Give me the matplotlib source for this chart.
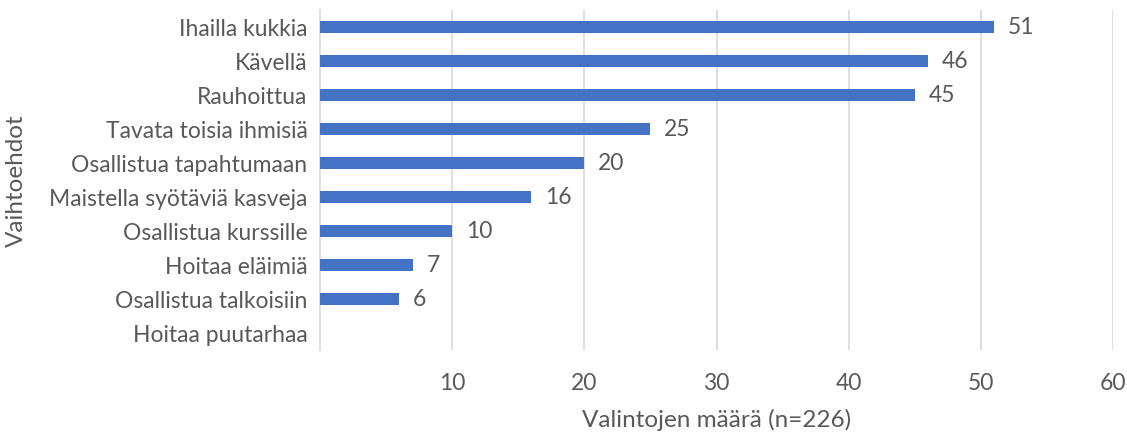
import numpy as np
import matplotlib
matplotlib.use("Agg")
import matplotlib.pyplot as plt

categories = ["Ihailla kukkia", "Kävellä", "Rauhoittua", "Tavata toisia ihmisiä",
              "Osallistua tapahtumaan", "Maistella syötäviä kasveja", "Osallistua kurssille",
              "Hoitaa eläimiä", "Osallistua talkoisiin", "Hoitaa puutarhaa"]
values = [51, 46, 45, 25, 20, 16, 10, 7, 6, None]
xticks = [10, 20, 30, 40, 50, 60]

plt.rcParams['font.family'] = ['Lato', 'DejaVu Sans']
txt = '#595959'
bar_color = '#4472C4'
grid_color = '#D9D9D9'
fs = 16.5
fs_title = 17.5

fig = plt.figure(figsize=(11.27, 4.34), dpi=100)
ax = fig.add_axes([320/1127, 1-350/434, (1113-320)/1127, 340/434])

vals = np.array([np.nan if v is None else v for v in values], dtype=float)
ypos = np.arange(len(categories))
ax.barh(ypos, np.nan_to_num(vals), height=0.35, color=bar_color, zorder=3)
for y, v in zip(ypos, vals):
    if not np.isnan(v):
        ax.annotate(f"{int(v)}", xy=(v, y), xytext=(10, 0), textcoords='offset points',
                    va='center', ha='left', fontsize=fs, color=txt)

ax.set_ylim(len(categories) - 0.5, -0.5)
ax.set_yticks(ypos)
ax.set_yticklabels(categories, fontsize=fs, color=txt)
ax.set_xlim(0, 60)
ax.set_xticks(xticks)
ax.set_xticklabels([str(t) for t in xticks], fontsize=fs, color=txt)
ax.tick_params(axis='both', length=0)
ax.tick_params(axis='y', pad=9)
ax.tick_params(axis='x', pad=16.5)
ax.grid(axis='x', color=grid_color, linewidth=1.2, zorder=0)
for s in ['top', 'right', 'bottom']:
    ax.spines[s].set_visible(False)
ax.spines['left'].set_color(grid_color)
ax.spines['left'].set_linewidth(1.2)

ax.set_xlabel("Valintojen määrä (n=226)", fontsize=fs_title, color=txt, labelpad=11)
fig.text(16/1127, 1-181/434, "Vaihtoehdot", rotation=90, fontsize=fs_title, color=txt,
         ha='center', va='center')

fig.savefig("out.png", dpi=100)
